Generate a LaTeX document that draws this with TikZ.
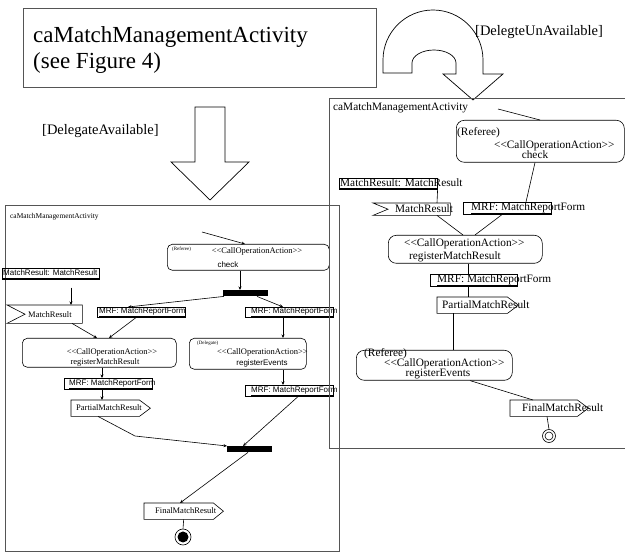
\documentclass[tikz,border=0pt]{standalone}
\usepackage{fontspec}
\setmainfont{Liberation Serif}
\setsansfont{Liberation Sans}
\usetikzlibrary{arrows.meta}
\definecolor{framegray}{RGB}{85,85,85}

\tikzset{
  frm/.style={draw=framegray, line width=0.8pt, inner sep=0pt, anchor=north west},
  act/.style={draw, rounded corners=5pt, line width=0.6pt, inner sep=0pt, anchor=north west},
  obj/.style={draw, line width=0.6pt, inner sep=0pt, anchor=north west},
  sig/.style={inner sep=0pt, anchor=north west},
  bar/.style={fill=black, inner sep=0pt, anchor=north west},
  flow/.style={->, line width=0.6pt},
  link/.style={line width=0.6pt},
  txt/.style={inner sep=0pt, anchor=west},
  smallA/.style={font=\fontsize{8.5}{10}\selectfont},
  sansA/.style={font=\sffamily\fontsize{8}{9}\selectfont},
  tinyA/.style={font=\fontsize{5}{6}\selectfont},
  textB/.style={font=\fontsize{11.3}{13}\selectfont},
  guard/.style={font=\fontsize{14.5}{16}\selectfont},
}

% signal shapes drawn round an empty node
\newcommand{\sendsig}[2]{\draw[link] (#1.north west) -- ([xshift=-#2]#1.north east)
  -- (#1.east) -- ([xshift=-#2]#1.south east) -- (#1.south west) -- cycle;}
\newcommand{\recvsig}[2]{\draw[link] (#1.north west) -- (#1.north east)
  -- (#1.south east) -- (#1.south west) -- ([xshift=#2]#1.west) -- cycle;}
\newcommand{\objline}[2]{\draw[line width=0.4pt] ([yshift=1.6pt]#1.south west -| #2.west)
  -- ([yshift=1.6pt]#1.south east);}
\newcommand{\callop}{<{}<CallOperationAction>{}>}

\begin{document}
\begin{tikzpicture}[x=1pt, y=-1pt, >={Stealth[length=3.5pt, width=3pt]}]
  \useasboundingbox (0,0) rectangle (625,556);

  % top part
  \node[frm, minimum width=353pt, minimum height=79pt] (title) at (23,8) {};
  \node[inner sep=0pt, anchor=base west, font=\fontsize{23}{25}\selectfont] (titleA) at (33,43) {caMatchManagementActivity};
  \node[inner sep=0pt, anchor=base west, font=\fontsize{23}{25}\selectfont] (titleB) at (33,69) {(see Figure 4)};

  \draw[line width=0.7pt] (383,73) -- (383,60) arc[start angle=180, delta angle=180, radius=50]
    -- (483,74) -- (503,74) -- (473,100) -- (443,74) -- (456,74) -- (456,63)
    arc[start angle=0, delta angle=-180, x radius=22, y radius=13] -- (412,73) -- cycle;
  \node[txt, guard] (unavail) at (475,32) {[DelegteUnAvailable]};

  \draw[line width=0.7pt] (195,107) -- (225,107) -- (225,162) -- (249,162) -- (210,200)
    -- (171,162) -- (195,162) -- cycle;
  \node[txt, guard] (avail) at (42,131) {[DelegateAvailable]};

  % left activity
  \node[frm, minimum width=334pt, minimum height=346pt] (frameA) at (5,205) {};
  \node[txt, font=\fontsize{7.4}{8}\selectfont] (lblA) at (10,217) {caMatchManagementActivity};
  \coordinate (initA) at (202,232);

  \node[act, minimum width=162pt, minimum height=26pt] (checkA) at (167,244) {};
  \node[txt, tinyA] (refA) at (172,249) {(Referee)};
  \node[inner sep=0pt, smallA] (coaA1) at (257,251) {\callop};
  \node[inner sep=0pt, sansA] (chkA) at (228,265) {check};
  \draw[flow] (initA) -- ([xshift=78pt]checkA.north west);

  \node[bar, minimum width=45pt, minimum height=6pt] (forkA) at (223,290) {};
  \draw[flow] ([xshift=73pt]checkA.south west) -- ([xshift=17pt]forkA.north west);

  \node[obj, minimum width=88pt, minimum height=10pt] (mrfA1) at (97,307) {};
  \node[txt, sansA] (mrfA1t) at (99,311.5) {MRF: MatchReportForm};
  \objline{mrfA1}{mrfA1t}
  \node[obj, minimum width=88pt, minimum height=10pt] (mrfB1) at (245,307) {};
  \node[txt, sansA] (mrfB1t) at (251,311.5) {MRF: MatchReportForm};
  \objline{mrfB1}{mrfB1t}
  \draw[flow] ([xshift=1pt]forkA.south west) -- ([xshift=31pt]mrfA1.north west);
  \draw[flow] ([xshift=34pt]forkA.south west) -- ([xshift=38pt]mrfB1.north west);

  \node[obj, minimum width=97pt, minimum height=11pt] (mrA) at (2,268) {};
  \node[txt, sansA] (mrAt) at (3,273) {MatchResult: MatchResult};
  \objline{mrA}{mrAt}
  \node[sig, minimum width=75pt, minimum height=18pt] (mrsigA) at (7,305) {};
  \recvsig{mrsigA}{18pt}
  \node[txt, smallA] (mrsigAt) at (28,315) {MatchResult};
  \draw[flow, shorten <=8pt] ([xshift=69pt]mrA.south west) -- ([xshift=64pt]mrsigA.north west);

  \node[act, minimum width=154pt, minimum height=29pt] (regmrA) at (22,338) {};
  \node[inner sep=0pt, smallA] (coaA2) at (112,352) {\callop};
  \node[inner sep=0pt, smallA] (regmrAt) at (105,362) {registerMatchResult};
  \draw[flow] ([xshift=65pt]mrsigA.south west) -- ([xshift=75pt]regmrA.north west);
  \draw[flow] ([xshift=39pt]mrfA1.south west) -- ([xshift=87pt]regmrA.north west);

  \node[obj, minimum width=88pt, minimum height=11pt] (mrfA2) at (64,378) {};
  \node[txt, sansA] (mrfA2t) at (69,383) {MRF: MatchReportForm};
  \objline{mrfA2}{mrfA2t}
  \draw[flow] ([xshift=80pt]regmrA.south west) -- ([xshift=38pt]mrfA2.north west);

  \node[sig, minimum width=79pt, minimum height=16pt] (partA) at (71,400) {};
  \sendsig{partA}{11pt}
  \node[txt, smallA] (partAt) at (76,408) {PartialMatchResult};
  \draw[flow] ([xshift=38pt]mrfA2.south west) -- ([xshift=31pt]partA.north west);

  \node[act, minimum width=117pt, minimum height=31pt] (regevA) at (189,338) {};
  \node[txt, tinyA] (delA) at (197,343) {(Delegate)};
  \node[txt, smallA] (coaA3) at (217,352) {\callop};
  \node[inner sep=0pt, sansA] (regevAt) at (262,363) {registerEvents};
  \draw[flow] ([xshift=38pt]mrfB1.south west) -- ([xshift=94pt]regevA.north west);

  \node[obj, minimum width=88pt, minimum height=11pt] (mrfB2) at (245,385) {};
  \node[txt, sansA] (mrfB2t) at (251,390) {MRF: MatchReportForm};
  \objline{mrfB2}{mrfB2t}
  \draw[flow] ([xshift=94pt]regevA.south west) -- ([xshift=38pt]mrfB2.north west);

  \node[bar, minimum width=45pt, minimum height=6pt] (joinA) at (227,446) {};
  \coordinate (bendA) at (135,436);
  \draw[flow] ([xshift=27pt]partA.south west) -- (bendA) -- (joinA.north west);
  \draw[flow] ([xshift=53pt]mrfB2.south west) -- ([xshift=16pt]joinA.north west);

  \node[sig, minimum width=79pt, minimum height=16pt] (finalA) at (144,503) {};
  \sendsig{finalA}{10pt}
  \node[txt, smallA] (finalAt) at (155,511) {FinalMatchResult};
  \draw[flow] ([xshift=21pt]joinA.south west) -- ([xshift=36pt]finalA.north west);

  \node[circle, draw, line width=0.6pt, minimum size=16pt, inner sep=0pt] (endA) at (183,537) {};
  \node[circle, fill, minimum size=11pt, inner sep=0pt] (dotA) at (endA) {};
  \draw[link] (finalA.south) -- (endA.north);

  % right activity
  \node[frm, minimum width=300pt, minimum height=350pt] (frameB) at (329,98) {};
  \node[txt, textB] (lblB) at (333,108) {caMatchManagementActivity};
  \coordinate (initB) at (498,109);

  \node[act, rounded corners=8pt, minimum width=168pt, minimum height=42pt] (checkB) at (456,120) {};
  \node[txt, textB] (refB1) at (457,133) {(Referee)};
  \node[txt, textB] (coaB1) at (494,146) {\callop};
  \node[inner sep=0pt, textB] (chkB) at (535,155) {check};
  \draw[link] (initB) -- ([xshift=84pt]checkB.north west);

  \node[obj, minimum width=88pt, minimum height=12pt] (mrfR1) at (463,202) {};
  \node[txt, textB] (mrfR1t) at (471,207.5) {MRF: MatchReportForm};
  \objline{mrfR1}{mrfR1t}
  \draw[link] ([xshift=79pt]checkB.south west) -- ([xshift=63pt]mrfR1.north west);

  \node[obj, minimum width=98pt, minimum height=11pt] (mrB) at (339,178) {};
  \node[txt, textB] (mrBt) at (340,183) {MatchResult: MatchResult};
  \objline{mrB}{mrBt}
  \node[sig, minimum width=77pt, minimum height=12pt] (mrsigB) at (373,203) {};
  \recvsig{mrsigB}{15pt}
  \node[txt, textB] (mrsigBt) at (395,209) {MatchResult};
  \draw[link] (mrB.south east) -- ([xshift=64pt]mrsigB.north west);

  \node[act, rounded corners=8pt, minimum width=154pt, minimum height=28pt] (regmrB) at (388,235) {};
  \node[txt, textB] (coaB2) at (404,244) {\callop};
  \node[txt, textB] (regmrBt) at (409,257) {registerMatchResult};
  \draw[link] ([xshift=64pt]mrsigB.south west) -- ([xshift=75pt]regmrB.north west);
  \draw[link] ([xshift=39pt]mrfR1.south west) -- ([xshift=87pt]regmrB.north west);

  \node[obj, minimum width=87pt, minimum height=12pt] (mrfR2) at (430,274) {};
  \node[txt, textB] (mrfR2t) at (437,279.5) {MRF: MatchReportForm};
  \objline{mrfR2}{mrfR2t}
  \draw[link] ([xshift=80pt]regmrB.south west) -- ([xshift=38pt]mrfR2.north west);

  \node[sig, minimum width=81pt, minimum height=16pt] (partB) at (437,297) {};
  \sendsig{partB}{11pt}
  \node[txt, textB] (partBt) at (442,305) {PartialMatchResult};
  \draw[link] ([xshift=38pt]mrfR2.south west) -- ([xshift=31pt]partB.north west);

  \node[act, rounded corners=8pt, minimum width=156pt, minimum height=30pt] (regevB) at (356,350) {};
  \node[txt, textB] (refB2) at (364,354) {(Referee)};
  \node[txt, textB] (coaB3) at (384,364) {\callop};
  \node[inner sep=0pt, textB] (regevBt) at (438,374) {registerEvents};
  \draw[link] ([xshift=16pt]partB.south west) -- ([xshift=97pt]regevB.north west);

  \node[sig, minimum width=78pt, minimum height=16pt] (finalB) at (510,400) {};
  \sendsig{finalB}{11pt}
  \node[txt, textB] (finalBt) at (522,408) {FinalMatchResult};
  \draw[link] ([xshift=114pt]regevB.south west) -- ([xshift=23pt]finalB.north west);

  \node[circle, draw, line width=0.6pt, minimum size=13pt, inner sep=0pt] (endB) at (549,436) {};
  \node[circle, draw, line width=0.6pt, minimum size=8pt, inner sep=0pt] (ringB) at (endB) {};
  \draw[link] ([xshift=37pt]finalB.south west) -- (endB.north);
\end{tikzpicture}
\end{document}
